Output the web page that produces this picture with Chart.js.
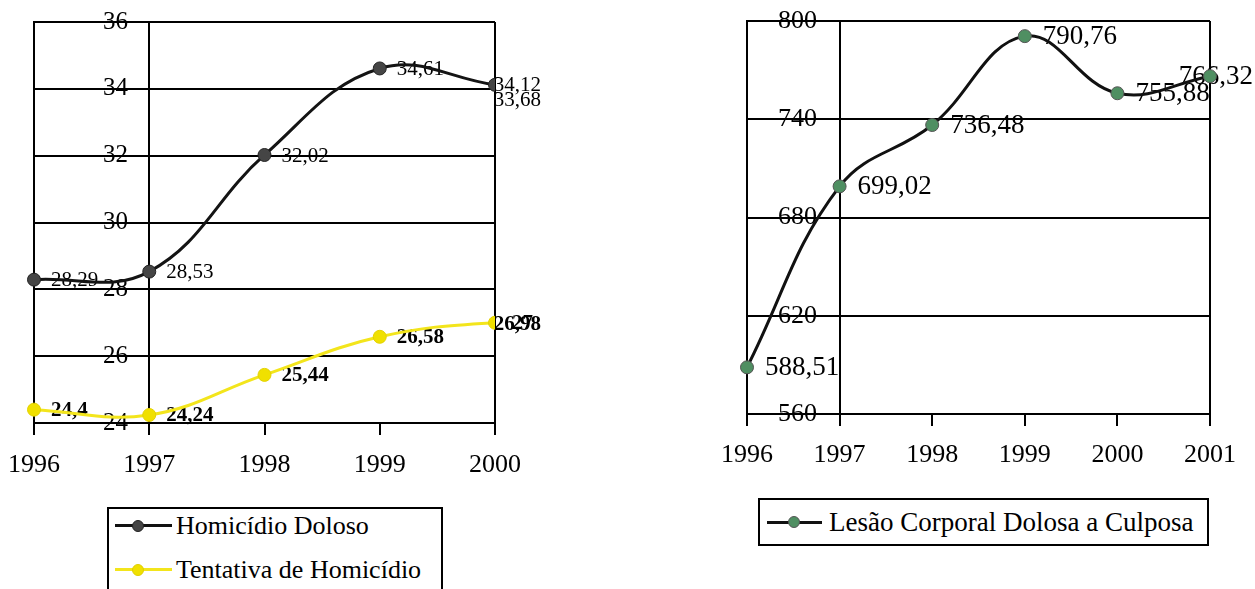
<!DOCTYPE html>
<html lang="pt">
<head>
<meta charset="utf-8">
<title>Homicídios e lesões corporais, 1996–2001</title>
<script src="https://cdn.jsdelivr.net/npm/chart.js@4.4.1/dist/chart.umd.min.js"></script>
<style>
  html, body { margin: 0; padding: 0; background: #fff; }
  body { position: relative; width: 1255px; height: 589px; overflow: hidden;
         font-family: "Liberation Serif", "Times New Roman", serif; color: #000; }
  canvas { position: absolute; top: 0; }
  #chartHomicidio { left: 0; }
  #chartLesao { left: 700px; }
  .box { position: absolute; border: 2px solid #000; background: #fff; box-sizing: border-box; }
  .ln { position: absolute; height: 3px; }
  .dot { position: absolute; width: 12px; height: 12px; border-radius: 50%; box-sizing: border-box; }
  .txt { position: absolute; white-space: nowrap; line-height: 30px; }
</style>
</head>
<body>
<canvas id="chartHomicidio" width="543" height="490"></canvas>
<canvas id="chartLesao" width="555" height="480"></canvas>

<!-- legend, left chart -->
<div class="box" style="left:107px; top:507px; width:336px; height:120px;"></div>
<div class="ln"  style="left:115px; top:524px; width:57px; background:#111;"></div>
<div class="dot" style="left:132px; top:520px; background:#454545; border:1px solid #222;"></div>
<div class="txt" style="left:176px; top:511px; font-size:26px;">Homicídio Doloso</div>
<div class="ln"  style="left:115px; top:568px; width:57px; background:#f3e51c;"></div>
<div class="dot" style="left:132px; top:564px; background:#f0e000; border:1px solid #e0cf00;"></div>
<div class="txt" style="left:176px; top:555px; font-size:26px;">Tentativa de Homicídio</div>

<!-- legend, right chart -->
<div class="box" style="left:758px; top:498px; width:451px; height:48px;"></div>
<div class="ln"  style="left:767px; top:521px; width:55px; background:#111;"></div>
<div class="dot" style="left:788px; top:516px; background:#4f8f62; border:1px solid #555;"></div>
<div class="txt" style="left:829px; top:507px; font-size:27px;">Lesão Corporal Dolosa a Culposa</div>

<script>
// Years and yearly rates
const years = ['1996', '1997', '1998', '1999', '2000', '2001'];
const homicidioDoloso    = [28.29, 28.53, 32.02, 34.61, 34.12, 33.68];
const tentativaHomicidio = [24.4, 24.24, 25.44, 26.58, 27, 26.98];
const lesaoCorporal      = [588.51, 699.02, 736.48, 790.76, 755.88, 766.32];

// Value-axis tick labels
const yTicksHomicidio = [24, 26, 28, 30, 32, 34, 36];
const yTicksLesao     = [560, 620, 680, 740, 800];

// The homicide chart stops its category axis at 2000; the value axis crosses at 1997
const lastYearHomicidio = '2000';
const crossYear = '1997';

const SERIF = 'Liberation Serif';

// Number labels placed to the right of each point, kept inside the canvas
const valueLabels = {
  id: 'valueLabels',
  beforeDatasetsDraw(chart, args, opts) {
    const { ctx, scales: { x, y } } = chart;
    ctx.save();
    ctx.textBaseline = 'middle';
    ctx.textAlign = 'left';
    ctx.fillStyle = '#000';
    chart.data.datasets.forEach((ds, di) => {
      ctx.font = opts.fonts[di];
      ds.data.forEach((v, i) => {
        const px = x.getPixelForValue(i);
        const py = y.getPixelForValue(v);
        const text = String(v).replace('.', ',');
        const w = ctx.measureText(text).width;
        const tx = Math.min(px + opts.offset, chart.width - 2 - w);
        ctx.fillText(text, tx, py + 1);
      });
    });
    ctx.restore();
  }
};

function xGrid(labels, lastIdx) {
  const crossIdx = labels.indexOf(crossYear);
  return {
    color: c => (c.index === 0 || c.index === crossIdx || c.index === lastIdx) ? '#000' : 'rgba(0,0,0,0)',
    tickColor: '#000',
    lineWidth: 2,
    tickWidth: 2,
    tickLength: 12,
    drawTicks: true,
    offset: false
  };
}

// Axis boxes keep a fixed size and add no extra margin around the plot
const fixX = s => { s.height = 50; s.paddingLeft = 0; s.paddingRight = 0; };
const fixY = s => { s.width = 0; s.paddingTop = 0; s.paddingBottom = 0; };

// Left: homicides
(function () {
  const lastIdx = years.indexOf(lastYearHomicidio);
  const hidden = c => c.dataIndex > lastIdx;
  new Chart(document.getElementById('chartHomicidio'), {
    type: 'line',
    data: {
      labels: years,
      datasets: [
        {
          label: 'Homicídio Doloso',
          data: homicidioDoloso,
          borderColor: '#141414',
          borderWidth: 3,
          pointRadius: c => hidden(c) ? 0 : 6.5,
          pointBackgroundColor: '#454545',
          pointBorderColor: '#222',
          pointBorderWidth: 1,
          tension: 0.4,
          segment: { borderColor: c => c.p1DataIndex > lastIdx ? 'rgba(0,0,0,0)' : undefined }
        },
        {
          label: 'Tentativa de Homicídio',
          data: tentativaHomicidio,
          borderColor: '#f3e51c',
          borderWidth: 3,
          pointRadius: c => hidden(c) ? 0 : 6.5,
          pointBackgroundColor: '#f0e000',
          pointBorderColor: '#e3d200',
          pointBorderWidth: 1,
          tension: 0.4,
          segment: { borderColor: c => c.p1DataIndex > lastIdx ? 'rgba(0,0,0,0)' : undefined }
        }
      ]
    },
    options: {
      responsive: false,
      animation: false,
      devicePixelRatio: 1,
      layout: { padding: { left: 34, top: 22, right: 48, bottom: 17 } },
      plugins: {
        legend: { display: false },
        tooltip: { enabled: false },
        valueLabels: {
          offset: 17,
          fonts: ['21px "' + SERIF + '"', 'bold 21px "' + SERIF + '"']
        }
      },
      scales: {
        x: {
          type: 'category',
          max: lastYearHomicidio,
          offset: false,
          grid: xGrid(years, lastIdx),
          border: { display: true, color: '#000', width: 2 },
          ticks: { autoSkip: false, maxRotation: 0, padding: 15, color: '#000',
                   font: { family: SERIF, size: 26 } },
          afterFit: fixX
        },
        y: {
          min: yTicksHomicidio[0],
          max: yTicksHomicidio[yTicksHomicidio.length - 1],
          afterBuildTicks: s => { s.ticks = yTicksHomicidio.map(v => ({ value: v })); },
          ticks: { mirror: true, padding: 69, color: '#000', font: { family: SERIF, size: 25 } },
          grid: { color: '#000', lineWidth: 2, drawTicks: false },
          border: { display: true, color: '#000', width: 2 },
          afterFit: fixY
        }
      }
    },
    plugins: [valueLabels]
  });
})();

// Right: bodily injury
(function () {
  const lastIdx = years.length - 1;
  new Chart(document.getElementById('chartLesao'), {
    type: 'line',
    data: {
      labels: years,
      datasets: [
        {
          label: 'Lesão Corporal Dolosa a Culposa',
          data: lesaoCorporal,
          borderColor: '#111',
          borderWidth: 3,
          pointRadius: 6.5,
          pointBackgroundColor: '#4f8f62',
          pointBorderColor: '#555',
          pointBorderWidth: 1,
          tension: 0.4
        }
      ]
    },
    options: {
      responsive: false,
      animation: false,
      devicePixelRatio: 1,
      layout: { padding: { left: 47, top: 21, right: 45, bottom: 16 } },
      plugins: {
        legend: { display: false },
        tooltip: { enabled: false },
        valueLabels: { offset: 18, fonts: ['27px "' + SERIF + '"'] }
      },
      scales: {
        x: {
          type: 'category',
          offset: false,
          grid: xGrid(years, lastIdx),
          border: { display: true, color: '#000', width: 2 },
          ticks: { autoSkip: false, maxRotation: 0, padding: 14, color: '#000',
                   font: { family: SERIF, size: 26 } },
          afterFit: fixX
        },
        y: {
          min: yTicksLesao[0],
          max: yTicksLesao[yTicksLesao.length - 1],
          afterBuildTicks: s => { s.ticks = yTicksLesao.map(v => ({ value: v })); },
          ticks: { mirror: true, padding: 31, color: '#000', font: { family: SERIF, size: 26 } },
          grid: { color: '#000', lineWidth: 2, drawTicks: false },
          border: { display: true, color: '#000', width: 2 },
          afterFit: fixY
        }
      }
    },
    plugins: [valueLabels]
  });
})();
</script>
</body>
</html>
